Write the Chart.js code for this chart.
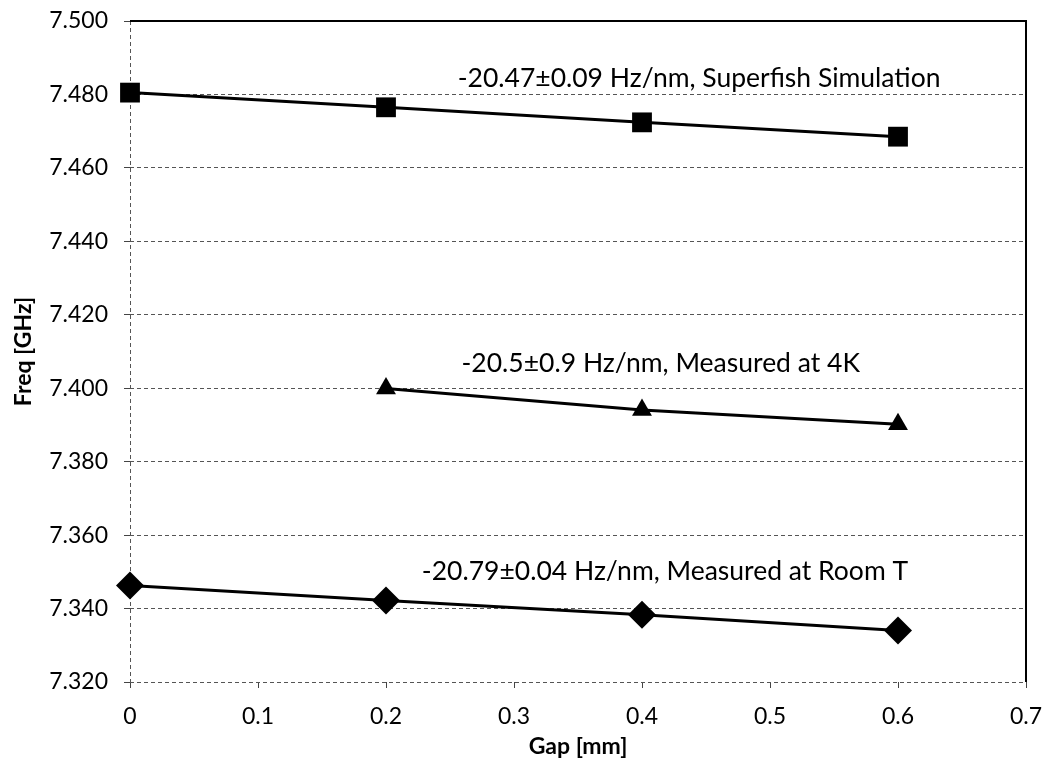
<!DOCTYPE html>
<html>
<head>
<meta charset="utf-8">
<script src="https://cdn.jsdelivr.net/npm/chart.js@4.4.1/dist/chart.umd.min.js"></script>
<style>
  html, body { margin: 0; background: #fff; }
</style>
</head>
<body>
<canvas id="chart" width="1052" height="775"></canvas>
<script>
// data
const gap = [0, 0.2, 0.4, 0.6];
const superfish = [7.4805, 7.4765, 7.4724, 7.4685];
const gap4K = [0.2, 0.4, 0.6];
const measured4K = [7.3999, 7.3941, 7.3902];
const roomT = [7.3463, 7.3422, 7.3383, 7.3340];

const xTicks = [0, 0.1, 0.2, 0.3, 0.4, 0.5, 0.6, 0.7];
const yTicks = [7.32, 7.34, 7.36, 7.38, 7.40, 7.42, 7.44, 7.46, 7.48, 7.50];

// fit labels, anchored at left/baseline in data units
const labelTexts = [
    "-20.47\u00b10.09 Hz/nm, Superfish Simulation",
    "-20.5\u00b10.9 Hz/nm, Measured at 4K",
    "-20.79\u00b10.04 Hz/nm, Measured at Room T"
];
const labelX = [0.256, 0.259, 0.228];
const labelY = [7.482, 7.4045, 7.3478];

const FONT = "Lato, 'Open Sans', sans-serif";

const toPoints = (xs, ys) => xs.map((v, i) => ({ x: v, y: ys[i] }));

// top/right frame and the fit labels
const overlay = {
    id: "overlay",
    afterDatasetsDraw(chart) {
        const { ctx, chartArea: a, scales: { x, y } } = chart;
        ctx.save();
        ctx.strokeStyle = "#000";
        ctx.lineWidth = 2;
        ctx.beginPath();
        ctx.moveTo(a.left, a.top);
        ctx.lineTo(a.right, a.top);
        ctx.lineTo(a.right, a.bottom);
        ctx.stroke();

        ctx.fillStyle = "#000";
        ctx.font = "26.5px " + FONT;
        ctx.textAlign = "left";
        ctx.textBaseline = "alphabetic";
        labelTexts.forEach((t, i) => {
            ctx.fillText(t, x.getPixelForValue(labelX[i]), y.getPixelForValue(labelY[i]));
        });
        ctx.restore();
    }
};

const ctx = document.getElementById("chart").getContext("2d");
new Chart(ctx, {
    type: "line",
    data: {
        datasets: [
            { data: toPoints(gap, superfish), pointStyle: "rect", pointRadius: 14 },
            { data: toPoints(gap4K, measured4K), pointStyle: "triangle", pointRadius: 11.5 },
            { data: toPoints(gap, roomT), pointStyle: "rectRot", pointRadius: 14 }
        ].map(d => Object.assign({
            borderColor: "#000",
            backgroundColor: "#000",
            borderWidth: 3,
            pointBorderWidth: 0,
            pointBackgroundColor: "#000",
            tension: 0,
            clip: false
        }, d))
    },
    options: {
        responsive: false,
        animation: false,
        layout: { padding: { top: 21, right: 26, bottom: 0, left: 0 } },
        plugins: { legend: { display: false }, tooltip: { enabled: false } },
        scales: {
            x: {
                type: "linear",
                min: 0,
                max: 0.7,
                afterBuildTicks: s => { s.ticks = xTicks.map(v => ({ value: v })); },
                afterFit: s => { s.height = 93; s.paddingLeft = 0; s.paddingRight = 0; },
                ticks: {
                    color: "#000",
                    padding: 15,
                    font: { family: FONT, size: 23 },
                    callback: v => String(+v.toFixed(1))
                },
                grid: {
                    color: c => (c.tick && c.tick.value === 0 ? "#555" : "rgba(0,0,0,0)"),
                    tickColor: "#444",
                    tickLength: 6,
                    lineWidth: 1
                },
                border: { display: false, dash: [4, 3] },
                title: {
                    display: true,
                    text: "Gap [mm]",
                    color: "#000",
                    font: { family: FONT, size: 23, weight: "bold" },
                    padding: { top: 0, bottom: 15 }
                }
            },
            y: {
                min: 7.32,
                max: 7.50,
                afterBuildTicks: s => { s.ticks = yTicks.map(v => ({ value: v })); },
                afterFit: s => { s.width = 130; s.paddingTop = 0; s.paddingBottom = 0; },
                ticks: {
                    color: "#000",
                    padding: 16,
                    font: { family: FONT, size: 23 },
                    callback: v => v.toFixed(3)
                },
                grid: {
                    color: "#555",
                    tickColor: "#444",
                    tickLength: 6,
                    lineWidth: 1
                },
                border: { display: false, dash: [4, 3] },
                title: {
                    display: true,
                    text: "Freq [GHz]",
                    color: "#000",
                    font: { family: FONT, size: 23, weight: "bold" },
                    padding: { top: 10, bottom: 0 }
                }
            }
        }
    },
    plugins: [overlay]
});
</script>
</body>
</html>
